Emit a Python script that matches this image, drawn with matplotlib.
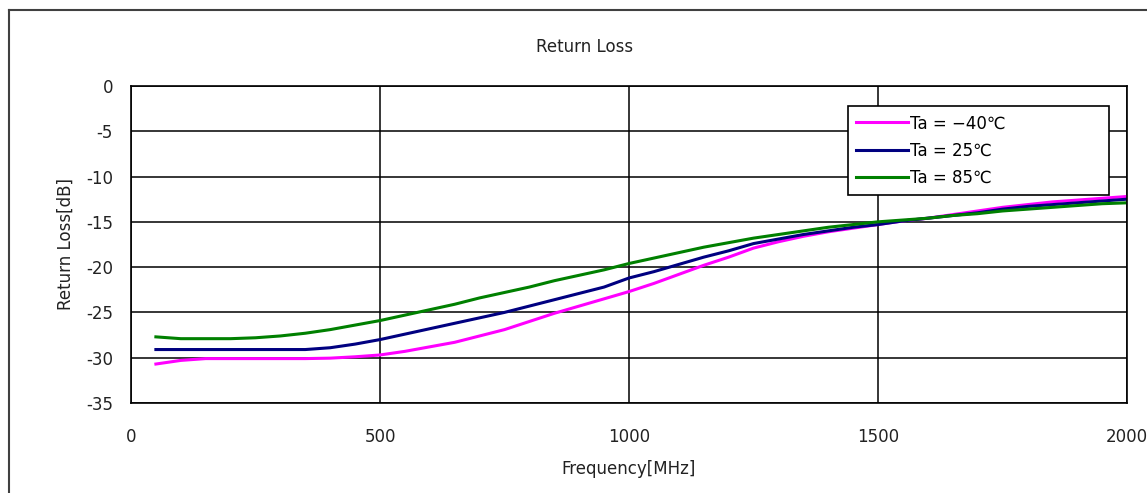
import matplotlib
matplotlib.use("Agg")
import matplotlib.pyplot as plt
from matplotlib.lines import Line2D

# Data (frequency in MHz, return loss in dB)
freq = [50, 100, 150, 200, 250, 300, 350, 400, 450, 500,
        550, 600, 650, 700, 750, 800, 850, 900, 950, 1000,
        1050, 1100, 1150, 1200, 1250, 1300, 1350, 1400, 1450, 1500,
        1550, 1600, 1650, 1700, 1750, 1800, 1850, 1900, 1950, 2000]

rl_m40 = [-30.7, -30.3, -30.1, -30.1, -30.1, -30.1, -30.1, -30.05, -29.9, -29.7,
          -29.3, -28.8, -28.3, -27.6, -26.9, -26.0, -25.1, -24.3, -23.5, -22.7,
          -21.8, -20.8, -19.8, -18.9, -17.9, -17.2, -16.6, -16.1, -15.7, -15.3,
          -14.9, -14.6, -14.2, -13.8, -13.4, -13.1, -12.8, -12.6, -12.4, -12.2]

rl_25 = [-29.1, -29.1, -29.1, -29.1, -29.1, -29.1, -29.1, -28.9, -28.5, -28.0,
         -27.4, -26.8, -26.2, -25.6, -25.0, -24.3, -23.6, -22.9, -22.2, -21.2,
         -20.5, -19.7, -18.9, -18.2, -17.4, -16.9, -16.4, -16.0, -15.6, -15.3,
         -14.9, -14.6, -14.3, -14.0, -13.6, -13.3, -13.1, -12.9, -12.7, -12.5]

rl_85 = [-27.7, -27.9, -27.9, -27.9, -27.8, -27.6, -27.3, -26.9, -26.4, -25.9,
         -25.3, -24.7, -24.1, -23.4, -22.8, -22.2, -21.5, -20.9, -20.3, -19.6,
         -19.0, -18.4, -17.8, -17.3, -16.8, -16.4, -16.0, -15.6, -15.3, -15.0,
         -14.8, -14.6, -14.3, -14.1, -13.8, -13.6, -13.4, -13.2, -13.0, -12.9]

labels = ["Ta = \u221240\u2103", "Ta = 25\u2103", "Ta = 85\u2103"]
colors = ["#ff00ff", "#000080", "#008000"]

plt.rcParams['axes.unicode_minus'] = False
plt.rcParams['font.family'] = ['DejaVu Sans']

fig = plt.figure(figsize=(11.47, 4.93), dpi=100)
ax = fig.add_axes([0.1142, 0.1826, 0.8684, 0.643])

for y, lab, c in zip([rl_m40, rl_25, rl_85], labels, colors):
	ax.plot(freq, y, color=c, lw=2.2, label=lab)

ax.set_xlim(0, 2000)
ax.set_ylim(-35, 0)
ax.set_xticks([0, 500, 1000, 1500, 2000])
ax.set_yticks(range(-35, 1, 5))
ax.grid(True, color='black', lw=1.1)
ax.set_axisbelow(True)
for s in ax.spines.values():
	s.set_color('black')
	s.set_linewidth(1.2)
ax.tick_params(axis='x', length=0, pad=18, labelsize=12, colors='#222222')
ax.tick_params(axis='y', length=0, pad=13, labelsize=12, colors='#222222')

ax.set_xlabel('Frequency[MHz]', fontsize=12, color='#222222', labelpad=10)
ax.set_ylabel('Return Loss[dB]', fontsize=12, color='#222222', labelpad=8)
fig.text(0.51, 0.905, 'Return Loss', ha='center', va='center', fontsize=12, color='#222222')

leg = ax.legend(loc='upper left', bbox_to_anchor=(0.72, 0.937, 0.262, 0.0), mode='expand',
	fancybox=False, framealpha=1, edgecolor='black', fontsize=12,
	handlelength=3.1, handletextpad=0.1, labelspacing=0.55, borderpad=0.5,
	borderaxespad=0.0)
leg.get_frame().set_linewidth(1.2)

# outer chart frame (only left and top edges visible)
fig.add_artist(Line2D([0.008, 0.008], [0.0, 0.98], transform=fig.transFigure, color='#404040', lw=1.5))
fig.add_artist(Line2D([0.008, 1.0], [0.98, 0.98], transform=fig.transFigure, color='#404040', lw=1.5))

fig.savefig('out.png', dpi=100)
